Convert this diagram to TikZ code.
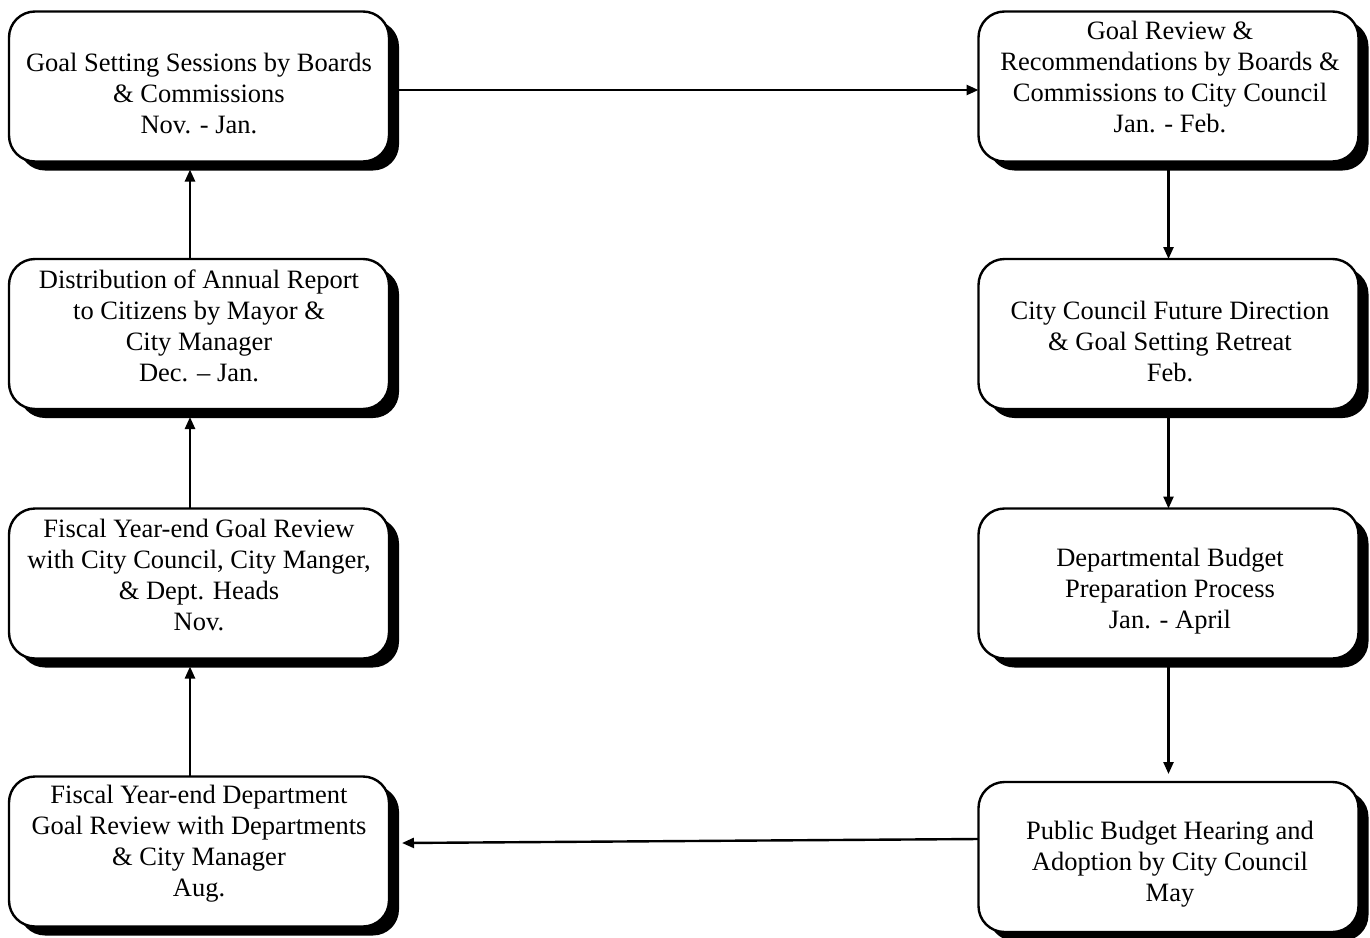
\documentclass[tikz,border=0pt]{standalone}
\usepackage{fontspec}
\setmainfont{Liberation Serif}
\usetikzlibrary{arrows.meta,shadows}
\tikzset{
  stagebox/.style={draw=black, line width=1.2pt, fill=white, rounded corners=13pt,
    minimum width=190pt, minimum height=75pt, inner sep=0pt, outer sep=0pt,
    drop shadow={shadow xshift=5pt, shadow yshift=-4.5pt, opacity=1, fill=black}},
  stagetext/.style={align=center, inner sep=0pt, font=\fontsize{13.25}{15.5}\selectfont},
  flow/.style={line width=1.2pt, -{Triangle[length=6pt,width=5pt]}}
}
\begin{document}
\begin{tikzpicture}[x=0.5pt,y=-0.5pt]
\useasboundingbox (0,0) rectangle (1370,937);
% boxes
\node[stagebox] (L1) at (199,86.5) {};
\node[stagebox] (R1) at (1168.5,86.5) {};
\node[stagebox] (L2) at (199,334) {};
\node[stagebox] (R2) at (1168.5,334) {};
\node[stagebox] (L3) at (199,583.5) {};
\node[stagebox] (R3) at (1168.5,583.5) {};
\node[stagebox] (L4) at (199,851.5) {};
\node[stagebox] (R4) at (1168.5,857) {};
% texts
\node[stagetext] (tL1) at (199,93) {Goal Setting Sessions by Boards\\ \& Commissions\\ Nov. - Jan.};
\node[stagetext] (tR1) at (1170,77) {Goal Review \&\\ Recommendations by Boards \&\\ Commissions to City Council\\ Jan. - Feb.};
\node[stagetext] (tL2) at (199,326) {Distribution of Annual Report\\ to Citizens by Mayor \&\\ City Manager\\ Dec. – Jan.};
\node[stagetext] (tR2) at (1170,341) {City Council Future Direction\\ \& Goal Setting Retreat\\ Feb.};
\node[stagetext] (tL3) at (199,575) {Fiscal Year-end Goal Review\\ with City Council, City Manger,\\ \& Dept. Heads\\ Nov.};
\node[stagetext] (tR3) at (1170,591) {Departmental Budget\\ Preparation Process\\ Jan. - April};
\node[stagetext] (tL4) at (199,844) {Fiscal Year-end Department\\ Goal Review with Departments\\ \& City Manager\\ Aug.};
\node[stagetext] (tR4) at (1170,864) {Public Budget Hearing and\\ Adoption by City Council\\ May};
% connectors
\draw[flow] ([yshift=-1.75pt]L1.east) -- ([yshift=-1.75pt]R1.west);
\draw[flow] ([yshift=-4pt]R1.south) -- (R2.north);
\draw[flow] ([yshift=-4pt]R2.south) -- (R3.north);
\draw[flow] ([yshift=-4pt]R3.south) -- ([yshift=4pt]R4.north);
\draw[flow] ([yshift=9pt]R4.west) -- ([xshift=6.5pt,yshift=4.25pt]L4.east);
\draw[flow] ([xshift=-4.5pt]L4.north) -- ([xshift=-4.5pt,yshift=-4pt]L3.south);
\draw[flow] ([xshift=-4.5pt]L3.north) -- ([xshift=-4.5pt,yshift=-4pt]L2.south);
\draw[flow] ([xshift=-4.5pt]L2.north) -- ([xshift=-4.5pt,yshift=-4pt]L1.south);
\end{tikzpicture}
\end{document}
